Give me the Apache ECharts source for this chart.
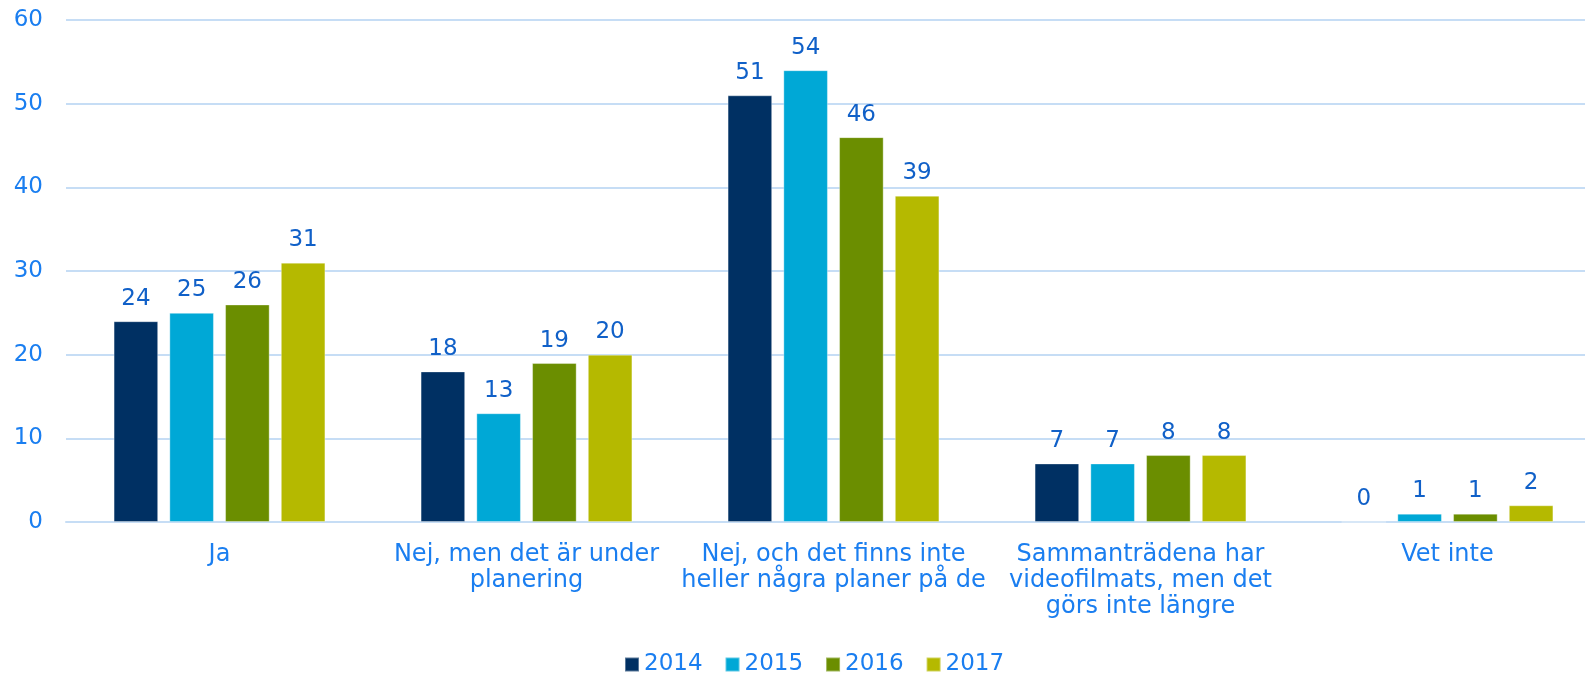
<!DOCTYPE html>
<html>
<head>
<meta charset="utf-8">
<script src="https://cdn.jsdelivr.net/npm/echarts@6/dist/echarts.min.js"></script>
<style>
  html, body { margin: 0; padding: 0; background: #fff; }
  #chart { width: 1585px; height: 674px; }
</style>
</head>
<body>
<div id="chart"></div>
<script>
const categories = [
  'Ja',
  'Nej, men det är under\nplanering',
  'Nej, och det finns inte\nheller några planer på de',
  'Sammanträdena har\nvideofilmats, men det\ngörs inte längre',
  'Vet inte'
]
const years = ['2014', '2015', '2016', '2017']
const values2014 = [24, 18, 51, 7, 0]
const values2015 = [25, 13, 54, 7, 1]
const values2016 = [26, 19, 46, 8, 1]
const values2017 = [31, 20, 39, 8, 2]
const yearColors = ['#003063', '#00a8d6', '#6b8e00', '#b5b900']

const font = 'DejaVu Sans, Verdana, sans-serif'
const axisBlue = '#1a7ef0'
const labelBlue = '#1060c8'

const myChart = echarts.init(document.getElementById('chart'))

const seriesData = [values2014, values2015, values2016, values2017]

const options = {
  animation: false,
  color: yearColors,
  textStyle: { fontFamily: font },
  grid: {
    left: 66,
    right: -16,
    top: 20,
    bottom: 152,
    outerBoundsMode: 'none'
  },
  legend: {
    left: 624,
    top: 653,
    padding: 0,
    itemWidth: 14,
    itemHeight: 14,
    itemGap: 22,
    icon: 'rect',
    textStyle: { color: axisBlue, fontSize: 23, fontFamily: font },
    data: years
  },
  xAxis: {
    type: 'category',
    data: categories,
    axisTick: { show: false },
    axisLine: { show: true, lineStyle: { color: '#c6ddf5', width: 2 } },
    axisLabel: {
      color: axisBlue,
      fontSize: 24,
      fontFamily: font,
      lineHeight: 26,
      margin: 20,
      interval: 0
    }
  },
  yAxis: {
    type: 'value',
    min: 0,
    max: 60,
    interval: 10,
    axisLine: { show: false },
    axisTick: { show: false },
    splitLine: { lineStyle: { color: '#c6ddf5', width: 2 } },
    axisLabel: {
      color: axisBlue,
      fontSize: 23,
      fontFamily: font,
      margin: 23
    }
  },
  series: years.map((year, i) => ({
    name: year,
    type: 'bar',
    barGap: '25%',
    barCategoryGap: '31%',
    data: seriesData[i],
    itemStyle: {
      borderColor: 'rgba(255,255,255,0.35)',
      borderWidth: 1
    },
    label: {
      show: true,
      position: 'top',
      distance: 11,
      color: labelBlue,
      fontSize: 23,
      fontFamily: font
    }
  }))
}

myChart.setOption(options)
</script>
</body>
</html>
